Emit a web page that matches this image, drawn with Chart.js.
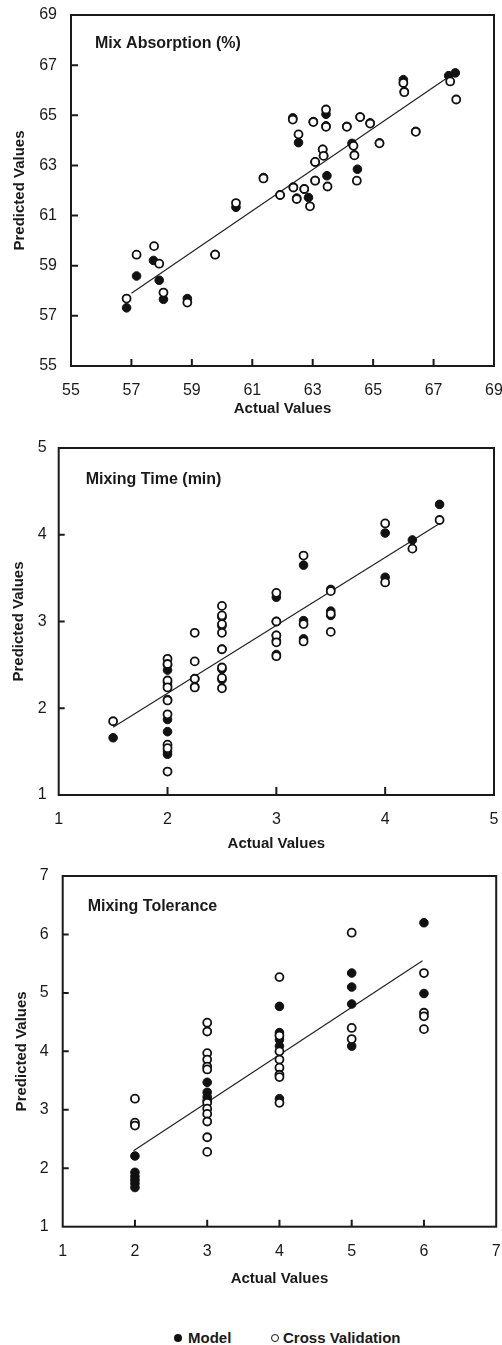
<!DOCTYPE html>
<html>
<head>
<meta charset="utf-8">
<title>Predicted vs Actual</title>
<script src="https://cdn.jsdelivr.net/npm/chart.js@4.4.1/dist/chart.umd.min.js"></script>
<style>
  body { margin: 0; background: #fff; width: 502px; height: 1345px; position: relative; overflow: hidden;
         font-family: 'Liberation Sans', Arial, Helvetica, sans-serif; color: #1a1a1a; }
  .panel { position: absolute; left: 0; width: 502px; }
  .panel canvas { display: block; }
  .key { position: absolute; top: 1329px; height: 18px; line-height: 18px; font-size: 15px; font-weight: bold; white-space: nowrap; }
  .dot { position: absolute; top: 5px; width: 8px; height: 8px; border-radius: 50%; box-sizing: border-box; }
  .dot.model { background: #111; }
  .dot.cv { background: #fff; border: 1.6px solid #111; }
</style>
</head>
<body>
<div class="panel" style="top:0;height:425px"><canvas id="absorption_chart" width="502" height="425"></canvas></div>
<div class="panel" style="top:425px;height:430px"><canvas id="time_chart" width="502" height="430"></canvas></div>
<div class="panel" style="top:855px;height:445px"><canvas id="tolerance_chart" width="502" height="445"></canvas></div>
<div class="key" style="left:174px"><i class="dot model" style="left:0"></i><span style="margin-left:14px">Model</span></div>
<div class="key" style="left:271px"><i class="dot cv" style="left:0"></i><span style="margin-left:12px">Cross Validation</span></div>

<script>
// data - mix absorption (%)
const absModelX = [56.84, 57.17, 57.73, 57.92, 58.06, 58.85, 59.77, 60.46, 61.37, 61.92, 62.34, 62.36, 62.47, 62.53, 62.72, 62.86,
                   63.02, 63.08, 63.08, 63.33, 63.36, 63.44, 63.44, 63.47, 64.13, 64.3, 64.38, 64.48, 64.57, 64.9, 65.21,
                   66.0, 66.03, 66.41, 67.5, 67.72];
const absModelY = [57.32, 58.59, 59.21, 58.42, 57.66, 57.69, 59.45, 61.33, 62.52, 61.82, 64.9, 62.14, 61.7, 63.91, 62.06, 61.72,
                   64.75, 63.14, 62.4, 63.64, 63.4, 65.04, 64.58, 62.59, 64.56, 63.88, 63.42, 62.85, 64.93, 64.7, 63.9,
                   66.42, 65.95, 64.36, 66.58, 66.69];
const absCvX = [56.84, 57.17, 57.75, 57.92, 58.06, 58.85, 59.77, 60.46, 61.37, 61.92, 62.34, 62.36, 62.47, 62.53, 62.72, 62.91,
                63.02, 63.08, 63.08, 63.33, 63.36, 63.44, 63.44, 63.49, 64.13, 64.35, 64.38, 64.46, 64.57, 64.9, 65.21,
                66.0, 66.03, 66.41, 67.55, 67.75];
const absCvY = [57.69, 59.44, 59.78, 59.08, 57.93, 57.53, 59.44, 61.5, 62.48, 61.82, 64.83, 62.12, 61.66, 64.24, 62.06, 61.37,
                64.73, 63.14, 62.39, 63.64, 63.38, 65.23, 64.54, 62.16, 64.54, 63.78, 63.4, 62.39, 64.93, 64.67, 63.88,
                66.29, 65.92, 64.34, 66.35, 65.63];
const absFitX = [57.0, 67.65];
const absFitY = [57.9, 66.66];

// data - mixing time (min)
const timeModelX = [1.5, 2, 2, 2, 2, 2, 2, 2, 2, 2, 2.25, 2.25, 2.5, 2.5, 2.5, 2.5, 2.5, 3, 3, 3, 3, 3,
                    3.25, 3.25, 3.25, 3.5, 3.5, 3.5, 4, 4, 4.25, 4.5];
const timeModelY = [1.66, 2.5, 2.44, 2.3, 2.26, 2.1, 1.87, 1.73, 1.5, 1.47, 2.34, 2.25, 3.05, 2.95, 2.68, 2.45, 2.33,
                    3.28, 3.0, 2.84, 2.78, 2.62, 3.65, 3.01, 2.8, 3.37, 3.12, 3.07, 4.02, 3.51, 3.94, 4.35];
const timeCvX = [1.5, 2, 2, 2, 2, 2, 2, 2, 2, 2, 2.25, 2.25, 2.25, 2.25, 2.5, 2.5, 2.5, 2.5, 2.5, 2.5, 2.5, 2.5,
                 3, 3, 3, 3, 3, 3.25, 3.25, 3.25, 3.5, 3.5, 3.5, 4, 4, 4.25, 4.5];
const timeCvY = [1.85, 2.57, 2.51, 2.32, 2.24, 2.09, 1.93, 1.58, 1.54, 1.27, 2.87, 2.54, 2.34, 2.24, 3.18, 3.07, 2.97, 2.87,
                 2.68, 2.47, 2.35, 2.23, 3.33, 3.0, 2.84, 2.76, 2.6, 3.76, 2.97, 2.77, 3.35, 3.09, 2.88, 4.13, 3.45, 3.84, 4.17];
const timeFitX = [1.5, 4.5];
const timeFitY = [1.78, 4.13];

// data - mixing tolerance
const tolModelX = [2, 2, 2, 2, 2, 2, 3, 3, 3, 3, 4, 4, 4, 4, 4, 5, 5, 5, 5, 6, 6];
const tolModelY = [2.21, 1.93, 1.86, 1.8, 1.74, 1.67, 3.47, 3.3, 3.22, 3.16, 4.77, 4.32, 4.2, 4.09, 3.19, 5.34, 5.1, 4.81, 4.09, 6.2, 4.99];
const tolCvX = [2, 2, 2, 3, 3, 3, 3, 3, 3, 3, 3, 3, 3, 3, 3, 4, 4, 4, 4, 4, 4, 4, 4, 5, 5, 5, 6, 6, 6, 6];
const tolCvY = [3.19, 2.78, 2.73, 4.49, 4.34, 3.97, 3.86, 3.74, 3.69, 3.12, 3.02, 2.93, 2.8, 2.53, 2.28,
                5.27, 4.27, 4.0, 3.86, 3.72, 3.6, 3.56, 3.12, 6.03, 4.4, 4.21, 5.34, 4.66, 4.6, 4.38];
const tolFitX = [1.98, 5.98];
const tolFitY = [2.3, 5.55];

const INK = '#1a1a1a';
const FONT = "'Liberation Sans', Arial, Helvetica, sans-serif";

const toPoints = (xs, ys) => xs.map((x, i) => ({x: x, y: ys[i]}));

// box round the plot area + small inward ticks
const frameTicks = {
    id: 'frameTicks',
    afterDraw(chart, args, opts) {
        const {ctx, chartArea: a, scales: {x, y}} = chart;
        ctx.save();
        ctx.strokeStyle = INK;
        ctx.lineWidth = 2;
        ctx.strokeRect(a.left, a.top, a.right - a.left, a.bottom - a.top);
        ctx.beginPath();
        x.ticks.forEach(t => {
            if (t.value > x.min && t.value < x.max) {
                const px = x.getPixelForValue(t.value);
                ctx.moveTo(px, a.bottom);
                ctx.lineTo(px, a.bottom - opts.xLen);
            }
        });
        y.ticks.forEach(t => {
            if (t.value > y.min && t.value < y.max) {
                const py = y.getPixelForValue(t.value);
                ctx.moveTo(a.left, py);
                ctx.lineTo(a.left + opts.yLen, py);
            }
        });
        ctx.stroke();
        ctx.restore();
    }
};

// panel title written inside the plot area, top left
const panelTitle = {
    id: 'panelTitle',
    afterDraw(chart, args, opts) {
        const {ctx, chartArea: a} = chart;
        ctx.save();
        ctx.fillStyle = INK;
        ctx.font = 'bold 16px ' + FONT;
        ctx.textBaseline = 'middle';
        ctx.fillText(opts.text, a.left + opts.dx, a.top + opts.dy);
        ctx.restore();
    }
};

function scatterPanel(canvasId, o) {
    return new Chart(document.getElementById(canvasId), {
        type: 'scatter',
        data: {
            datasets: [
                {
                    label: 'Cross Validation',
                    data: toPoints(o.cvX, o.cvY),
                    pointRadius: 4,
                    pointBorderWidth: 1.8,
                    pointBackgroundColor: '#fff',
                    pointBorderColor: '#111'
                },
                {
                    label: 'Model',
                    data: toPoints(o.modelX, o.modelY),
                    pointRadius: 4.3,
                    pointBorderWidth: 1,
                    pointBackgroundColor: '#111',
                    pointBorderColor: '#111'
                },
                {
                    label: 'Fit',
                    data: toPoints(o.fitX, o.fitY),
                    showLine: true,
                    pointRadius: 0,
                    borderColor: '#222',
                    borderWidth: 1.2
                }
            ]
        },
        options: {
            responsive: false,
            animation: false,
            events: [],
            layout: { padding: o.pad },
            plugins: {
                legend: { display: false },
                tooltip: { enabled: false },
                frameTicks: { xLen: o.xTick, yLen: o.yTick },
                panelTitle: { text: o.title, dx: o.titleDx, dy: o.titleDy }
            },
            scales: {
                x: {
                    type: 'linear',
                    min: o.xMin, max: o.xMax,
                    grid: { display: false, drawTicks: false },
                    border: { display: false },
                    ticks: { stepSize: o.step, autoSkip: false, padding: o.xPad, color: INK, font: { family: FONT, size: 16 } },
                    title: { display: true, text: 'Actual Values', color: INK, padding: { top: 0, bottom: o.xTitlePad },
                             font: { family: FONT, size: 15, weight: 'bold' } },
                    afterFit: s => { s.height = o.xH; s.paddingLeft = 0; s.paddingRight = 0; }
                },
                y: {
                    type: 'linear',
                    min: o.yMin, max: o.yMax,
                    grid: { display: false, drawTicks: false },
                    border: { display: false },
                    ticks: { stepSize: o.step, autoSkip: false, padding: o.yPad, color: INK, font: { family: FONT, size: 16 } },
                    title: { display: true, text: 'Predicted Values', color: INK, padding: { top: o.yTitlePad, bottom: 0 },
                             font: { family: FONT, size: 15, weight: 'bold' } },
                    afterFit: s => { s.width = o.yW; s.paddingTop = 0; s.paddingBottom = 0; }
                }
            }
        },
        plugins: [frameTicks, panelTitle]
    });
}

scatterPanel('absorption_chart', {
    modelX: absModelX, modelY: absModelY, cvX: absCvX, cvY: absCvY, fitX: absFitX, fitY: absFitY,
    title: 'Mix Absorption (%)', titleDx: 24, titleDy: 29,
    xMin: 55, xMax: 69, yMin: 55, yMax: 69, step: 2,
    pad: { top: 15, right: 8, left: 0, bottom: 0 },
    yW: 71, xH: 59, xPad: 15, yPad: 14, xTitlePad: 7, yTitlePad: 11, xTick: 7, yTick: 7
});

scatterPanel('time_chart', {
    modelX: timeModelX, modelY: timeModelY, cvX: timeCvX, cvY: timeCvY, fitX: timeFitX, fitY: timeFitY,
    title: 'Mixing Time (min)', titleDx: 27, titleDy: 32,
    xMin: 1, xMax: 5, yMin: 1, yMax: 5, step: 1,
    pad: { top: 23, right: 8, left: 0, bottom: 0 },
    yW: 58.7, xH: 60, xPad: 15, yPad: 12, xTitlePad: 2, yTitlePad: 10, xTick: 8, yTick: 6
});

scatterPanel('tolerance_chart', {
    modelX: tolModelX, modelY: tolModelY, cvX: tolCvX, cvY: tolCvY, fitX: tolFitX, fitY: tolFitY,
    title: 'Mixing Tolerance', titleDx: 25, titleDy: 31,
    xMin: 1, xMax: 7, yMin: 1, yMax: 7, step: 1,
    pad: { top: 21, right: 5, left: 0, bottom: 0 },
    yW: 62.7, xH: 73.3, xPad: 15, yPad: 14, xTitlePad: 12, yTitlePad: 13, xTick: 7, yTick: 6
});
</script>
</body>
</html>
